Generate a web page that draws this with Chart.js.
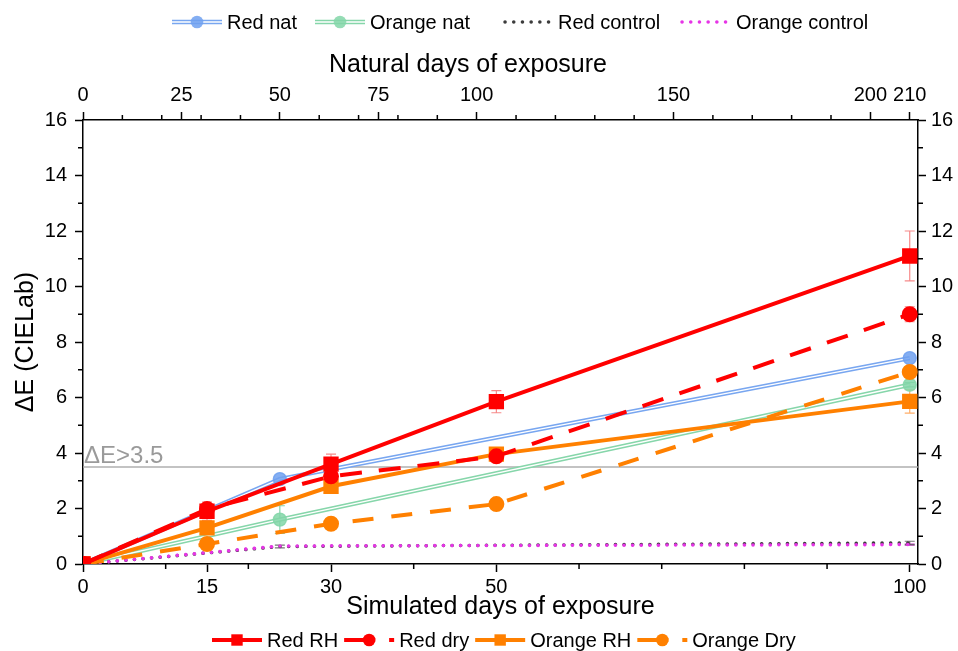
<!DOCTYPE html>
<html>
<head>
<meta charset="utf-8">
<script src="https://cdn.jsdelivr.net/npm/chart.js@4.4.1/dist/chart.umd.min.js"></script>
<style>
  html, body { margin: 0; padding: 0; background: #fff; }
</style>
</head>
<body>
<canvas id="chart" width="958" height="651"></canvas>
<script>
// simulated exposure (bottom axis)
const simDays = [0, 15, 30, 50, 100];
const redRH = [0, 1.9, 3.6, 5.85, 11.1];
const redRHErr = [0, 0.33, 0.36, 0.4, 0.9];
const redDry = [0, 1.98, 3.16, 3.88, 9.0];
const redDryErr = [0, 0.12, 0.1, 0.08, 0.27];
const orangeRH = [0, 1.3, 2.8, 3.96, 5.86];
const orangeRHErr = [0, 0.2, 0.25, 0.17, 0.42];
const orangeDry = [0, 0.72, 1.45, 2.16, 6.92];
const orangeDryErr = [0, 0, 0, 0, 0];

// natural exposure (top axis)
const natDays = [0, 50, 210];
const redNat = [0, 3.06, 7.42];
const redNatErr = [0, 0, 0];
const orangeNat = [0, 1.6, 6.46];
const orangeNatErr = [0, 0.5, 0.08];
const redControl = [0, 0.63, 0.76];
const redControlErr = [0, 0.05, 0.06];
const orangeControl = [0, 0.65, 0.7];
const orangeControlErr = [0, 0, 0.03];

// axes
const simMax = 101;
const natMax = 212.1;
const simTicks = [0, 15, 30, 50, 100];
const simMinor = [10, 20, 40, 60, 70, 80, 90];
const natTicks = [0, 25, 50, 75, 100, 150, 200, 210];
const natMinor = [10, 20, 30, 40, 60, 70, 80, 90, 110, 120, 130, 140, 160, 170, 180, 190];
const yMinor = [1, 3, 5, 7, 9, 11, 13, 15];
const threshold = 3.5;

const FONT = 'Arial, "Liberation Sans", sans-serif';
const RED = '#ff0000';
const ORANGE = '#ff8000';
const BLUE = '#78a6f0';
const GREEN = '#86d6aa';
const GRAY = '#3c3c3c';
const MAGENTA = '#e634e6';

const pts = (xs, ys) => xs.map((x, i) => ({ x: x, y: ys[i] }));

const datasets = [
  { label: 'Red RH', data: pts(simDays, redRH), errors: redRHErr, errColor: 'rgba(240,60,60,0.6)',
    borderColor: RED, backgroundColor: RED, borderWidth: 4, pointStyle: 'rect', pointRadius: 8 },
  { label: 'Red dry', data: pts(simDays, redDry), errors: redDryErr, errColor: 'rgba(240,60,60,0.6)',
    borderColor: RED, backgroundColor: RED, borderWidth: 4, borderDash: [22, 17], pointRadius: 6 },
  { label: 'Orange RH', data: pts(simDays, orangeRH), errors: orangeRHErr, errColor: 'rgba(255,140,40,0.7)',
    borderColor: ORANGE, backgroundColor: ORANGE, borderWidth: 4, pointStyle: 'rect', pointRadius: 8 },
  { label: 'Orange Dry', data: pts(simDays, orangeDry), errors: orangeDryErr, errColor: 'rgba(255,140,40,0.7)',
    borderColor: ORANGE, backgroundColor: ORANGE, borderWidth: 4, borderDash: [21, 18], pointRadius: 6 },
  { label: 'Orange control', xAxisID: 'x2', data: pts(natDays, orangeControl), errors: orangeControlErr, errColor: 'rgba(200,60,200,0.7)',
    borderColor: MAGENTA, borderWidth: 3.5, borderDash: [0.1, 8.5], borderCapStyle: 'round', pointRadius: 0 },
  { label: 'Red control', xAxisID: 'x2', data: pts(natDays, redControl), errors: redControlErr, errColor: 'rgba(60,60,60,0.7)',
    borderColor: GRAY, borderWidth: 3.5, borderDash: [0.1, 8.5], borderCapStyle: 'round', pointRadius: 0 },
  // double lines: white core on top of a wider coloured line
  { label: 'Red nat', xAxisID: 'x2', data: pts(natDays, redNat), errors: redNatErr, errColor: BLUE,
    borderColor: '#ffffff', borderWidth: 1.4, pointRadius: 6.5,
    pointBackgroundColor: 'rgba(110,160,240,0.85)', pointBorderColor: 'rgba(110,160,240,0.85)' },
  { label: 'Red nat line', xAxisID: 'x2', data: pts(natDays, redNat),
    borderColor: BLUE, borderWidth: 4.4, pointRadius: 0 },
  { label: 'Orange nat', xAxisID: 'x2', data: pts(natDays, orangeNat), errors: orangeNatErr, errColor: 'rgba(120,205,160,0.9)',
    borderColor: '#ffffff', borderWidth: 1.4, pointRadius: 6.5,
    pointBackgroundColor: 'rgba(130,214,168,0.85)', pointBorderColor: 'rgba(130,214,168,0.85)' },
  { label: 'Orange nat line', xAxisID: 'x2', data: pts(natDays, orangeNat),
    borderColor: GREEN, borderWidth: 4.4, pointRadius: 0 }
];

const topLegend = [
  { x: 172, w: 50, gap: 5, text: 'Red nat', color: BLUE, double: true, marker: 'circle', mColor: 'rgba(110,160,240,0.85)' },
  { x: 315, w: 50, gap: 5, text: 'Orange nat', color: GREEN, double: true, marker: 'circle', mColor: 'rgba(130,214,168,0.85)' },
  { x: 505, w: 44, gap: 9, text: 'Red control', color: GRAY, dash: [0.1, 8.6], cap: 'round', width: 3.5 },
  { x: 682, w: 44, gap: 10, text: 'Orange control', color: MAGENTA, dash: [0.1, 8.6], cap: 'round', width: 3.5 }
];
const bottomLegend = [
  { text: 'Red RH', color: RED, width: 4, marker: 'rect', mColor: RED },
  { text: 'Red dry', color: RED, width: 4, dash: [31, 14], marker: 'circle', mColor: RED },
  { text: 'Orange RH', color: ORANGE, width: 4, marker: 'rect', mColor: ORANGE },
  { text: 'Orange Dry', color: ORANGE, width: 4, dash: [31, 14], marker: 'circle', mColor: ORANGE }
];

function drawMarker(ctx, kind, x, y, color) {
  ctx.save();
  ctx.setLineDash([]);
  ctx.fillStyle = color;
  if (kind === 'rect') {
    ctx.fillRect(x - 5.7, y - 5.7, 11.4, 11.4);
  } else if (kind === 'circle') {
    ctx.beginPath();
    ctx.arc(x, y, 6.3, 0, Math.PI * 2);
    ctx.fill();
  }
  ctx.restore();
}

function drawSample(ctx, it, x0, y) {
  const x1 = x0 + it.w;
  ctx.save();
  ctx.beginPath();
  ctx.moveTo(x0, y);
  ctx.lineTo(x1, y);
  if (it.double) {
    ctx.strokeStyle = it.color;
    ctx.lineWidth = 4.4;
    ctx.stroke();
    ctx.strokeStyle = '#fff';
    ctx.lineWidth = 1.4;
    ctx.stroke();
  } else {
    ctx.setLineDash(it.dash || []);
    ctx.lineCap = it.cap || 'butt';
    ctx.strokeStyle = it.color;
    ctx.lineWidth = it.width;
    ctx.stroke();
  }
  ctx.restore();
  if (it.marker) drawMarker(ctx, it.marker, (x0 + x1) / 2, y, it.mColor);
}

const extras = {
  id: 'extras',
  beforeDatasetsDraw(chart) {
    const { ctx, chartArea, scales } = chart;
    const y = scales.y;
    // threshold line and label
    const ty = y.getPixelForValue(threshold);
    ctx.save();
    ctx.strokeStyle = 'rgba(170,170,170,0.7)';
    ctx.lineWidth = 2;
    ctx.beginPath();
    ctx.moveTo(chartArea.left, ty);
    ctx.lineTo(chartArea.right, ty);
    ctx.stroke();
    ctx.fillStyle = '#9a9a9a';
    ctx.font = '24px ' + FONT;
    ctx.textAlign = 'left';
    ctx.textBaseline = 'alphabetic';
    ctx.fillText('\u0394E>3.5', chartArea.left + 1, ty - 4);
    ctx.restore();
    // error bars
    chart.data.datasets.forEach(ds => {
      if (!ds.errors) return;
      const xs = scales[ds.xAxisID || 'x'];
      ctx.save();
      ctx.strokeStyle = ds.errColor;
      ctx.lineWidth = 1.2;
      ds.data.forEach((p, i) => {
        const e = ds.errors[i];
        if (!e) return;
        const px = xs.getPixelForValue(p.x);
        const y1 = y.getPixelForValue(p.y + e);
        const y2 = y.getPixelForValue(p.y - e);
        ctx.beginPath();
        ctx.moveTo(px, y1); ctx.lineTo(px, y2);
        ctx.moveTo(px - 5, y1); ctx.lineTo(px + 5, y1);
        ctx.moveTo(px - 5, y2); ctx.lineTo(px + 5, y2);
        ctx.stroke();
      });
      ctx.restore();
    });
  },
  afterDraw(chart) {
    const { ctx, chartArea, scales } = chart;
    ctx.save();
    // minor ticks
    ctx.strokeStyle = '#000';
    ctx.lineWidth = 1.5;
    ctx.beginPath();
    simMinor.forEach(v => {
      const px = scales.x.getPixelForValue(v);
      ctx.moveTo(px, chartArea.bottom); ctx.lineTo(px, chartArea.bottom + 5);
    });
    natMinor.forEach(v => {
      const px = scales.x2.getPixelForValue(v);
      ctx.moveTo(px, chartArea.top); ctx.lineTo(px, chartArea.top - 5);
    });
    yMinor.forEach(v => {
      const py = scales.y.getPixelForValue(v);
      ctx.moveTo(chartArea.left, py); ctx.lineTo(chartArea.left - 5, py);
      ctx.moveTo(chartArea.right, py); ctx.lineTo(chartArea.right + 5, py);
    });
    ctx.stroke();

    // top axis title
    ctx.fillStyle = '#000';
    ctx.font = '25px ' + FONT;
    ctx.textAlign = 'center';
    ctx.textBaseline = 'alphabetic';
    ctx.fillText('Natural days of exposure', 468, 72);

    // legends
    ctx.font = '20px ' + FONT;
    ctx.textAlign = 'left';
    ctx.textBaseline = 'middle';
    topLegend.forEach(it => {
      drawSample(ctx, it, it.x, 22);
      ctx.fillStyle = '#000';
      ctx.fillText(it.text, it.x + it.w + it.gap, 23);
    });
    let bx = 212;
    bottomLegend.forEach(it => {
      const item = Object.assign({ w: 50 }, it);
      drawSample(ctx, item, bx, 640);
      ctx.fillStyle = '#000';
      ctx.fillText(it.text, bx + 55, 641);
      bx += 55 + ctx.measureText(it.text).width + 6;
    });
    ctx.restore();
  }
};

const tickFont = { family: FONT, size: 20 };
const axisGrid = { display: true, drawOnChartArea: false, drawTicks: true, tickLength: 8, tickWidth: 1.5, tickColor: '#000' };
const axisBorder = { display: true, color: '#000', width: 1.5 };

new Chart(document.getElementById('chart'), {
  type: 'line',
  data: { datasets: datasets },
  plugins: [extras],
  options: {
    responsive: false,
    animation: false,
    devicePixelRatio: 1,
    layout: { padding: 0 },
    elements: { line: { tension: 0, fill: false } },
    plugins: { legend: { display: false }, tooltip: { enabled: false } },
    scales: {
      x: {
        type: 'linear', position: 'bottom', min: 0, max: simMax,
        afterBuildTicks: s => { s.ticks = simTicks.map(v => ({ value: v })); },
        afterFit: s => { s.height = 87; },
        ticks: { autoSkip: false, maxRotation: 0, padding: 3, color: '#000', font: tickFont },
        grid: axisGrid, border: axisBorder,
        title: { display: true, text: 'Simulated days of exposure', color: '#000',
                 font: { family: FONT, size: 25 }, padding: { top: 0, bottom: 29 } }
      },
      x2: {
        type: 'linear', position: 'top', min: 0, max: natMax,
        afterBuildTicks: s => { s.ticks = natTicks.map(v => ({ value: v })); },
        afterFit: s => { s.height = 120; },
        ticks: { autoSkip: false, maxRotation: 0, padding: 5, color: '#000', font: tickFont },
        grid: axisGrid, border: axisBorder
      },
      y: {
        type: 'linear', position: 'left', min: 0, max: 16,
        afterFit: s => { s.width = 83; },
        ticks: { stepSize: 2, padding: 8, color: '#000', font: tickFont },
        grid: axisGrid, border: axisBorder,
        title: { display: true, text: '\u0394E (CIELab)', color: '#000',
                 font: { family: FONT, size: 25 }, padding: { top: 11, bottom: 0 } }
      },
      y2: {
        type: 'linear', position: 'right', min: 0, max: 16,
        afterFit: s => { s.width = 40; },
        ticks: { stepSize: 2, padding: 5, color: '#000', font: tickFont },
        grid: axisGrid, border: axisBorder
      }
    }
  }
});
</script>
</body>
</html>
